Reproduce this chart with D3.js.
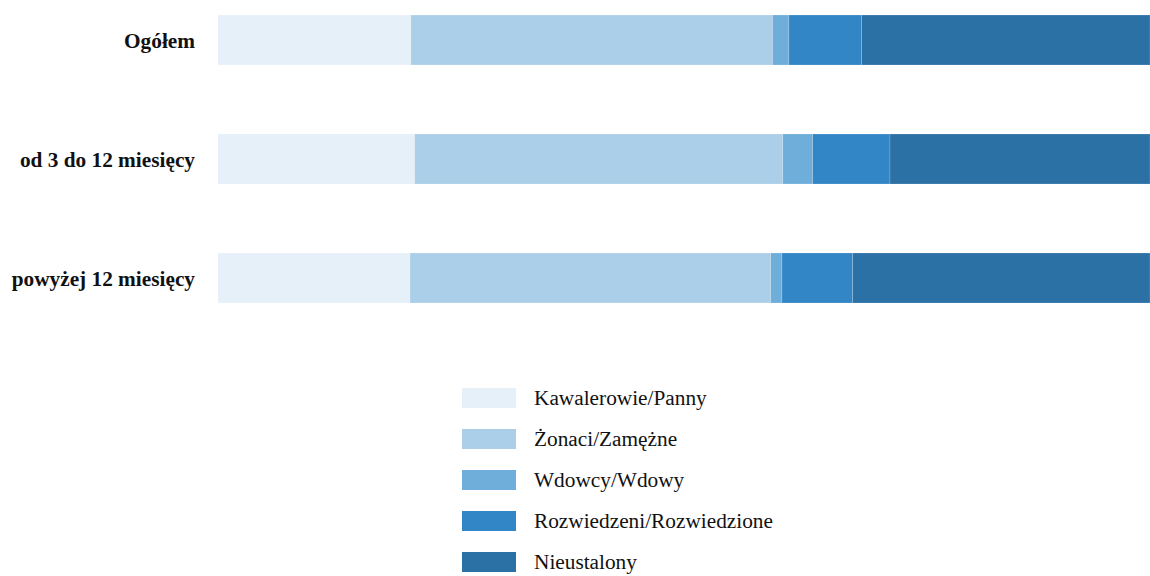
<!DOCTYPE html>
<html>
<head>
<meta charset="utf-8">
<script src="https://cdn.jsdelivr.net/npm/d3@7"></script>
<style>
  body { margin: 0; background: #fff; }
</style>
</head>
<body>
<div id="chart"></div>
<script>
// categories and series (percent of each row)
var groups = ["Ogółem", "od 3 do 12 miesięcy", "powyżej 12 miesięcy"];
var seriesNames = ["Kawalerowie/Panny", "Żonaci/Zamężne", "Wdowcy/Wdowy", "Rozwiedzeni/Rozwiedzione", "Nieustalony"];
var kawalerowie = [20.7, 21.1, 20.6];
var zonaci = [38.8, 39.5, 38.7];
var wdowcy = [1.75, 3.2, 1.2];
var rozwiedzeni = [7.8, 8.3, 7.6];
var nieustalony = [30.95, 27.9, 31.9];
var colors = ["#e6f0f9", "#abcfe8", "#6faedb", "#3286c6", "#2b71a6"];

var width = 1150, height = 576;
var margin = { top: 15, right: 0, bottom: 0, left: 218 };

var rows = groups.map(function(g, i) {
    return { group: g, "Kawalerowie/Panny": kawalerowie[i], "Żonaci/Zamężne": zonaci[i],
             "Wdowcy/Wdowy": wdowcy[i], "Rozwiedzeni/Rozwiedzione": rozwiedzeni[i], "Nieustalony": nieustalony[i] };
});
var stacked = d3.stack().keys(seriesNames)(rows);

var svg = d3.select("#chart").append("svg")
    .attr("width", width)
    .attr("height", height);

var x = d3.scaleLinear().domain([0, 100]).range([margin.left, width - margin.right]);
// band step 119, bar height 50
var y = d3.scaleBand().domain(groups)
    .range([margin.top, margin.top + 2 * 119 + 50])
    .paddingInner(69 / 119).paddingOuter(0);

var color = d3.scaleOrdinal().domain(seriesNames).range(colors);

svg.append("g").selectAll("g")
    .data(stacked)
    .enter().append("g")
    .attr("fill", function(d) { return color(d.key); })
    .selectAll("rect")
    .data(function(d) { return d; })
    .enter().append("rect")
    .attr("x", function(d) { return x(d[0]); })
    .attr("y", function(d) { return y(d.data.group); })
    .attr("width", function(d) { return x(d[1]) - x(d[0]); })
    .attr("height", y.bandwidth())
    .style("stroke", "#ffffff")
    .style("stroke-opacity", 0.25)
    .style("stroke-width", "0.7px");

svg.selectAll(".grouplabel")
    .data(groups)
    .enter().append("text")
    .attr("class", "grouplabel")
    .text(function(d) { return d; })
    .attr("x", 195)
    .attr("y", function(d) { return y(d) + y.bandwidth() / 2 + 1; })
    .attr("dy", "0.35em")
    .style("text-anchor", "end")
    .style("font-family", "Liberation Serif, Times New Roman, serif")
    .style("font-weight", "bold")
    .style("font-size", "21.3px")
    .attr("fill", "#111");

// legend
var legendY = d3.scaleBand().domain(seriesNames).range([388, 388 + 5 * 41]);
var legend = svg.selectAll(".legend")
    .data(seriesNames)
    .enter().append("g")
    .attr("class", "legend");
legend.append("rect")
    .attr("x", 462)
    .attr("y", function(d) { return legendY(d); })
    .attr("width", 54)
    .attr("height", 20)
    .attr("fill", function(d) { return color(d); });
legend.append("text")
    .text(function(d) { return d; })
    .attr("x", 534)
    .attr("y", function(d) { return legendY(d) + 10; })
    .attr("dy", "0.35em")
    .style("font-family", "Liberation Serif, Times New Roman, serif")
    .style("font-size", "21.3px")
    .attr("fill", "#111");
</script>
</body>
</html>
